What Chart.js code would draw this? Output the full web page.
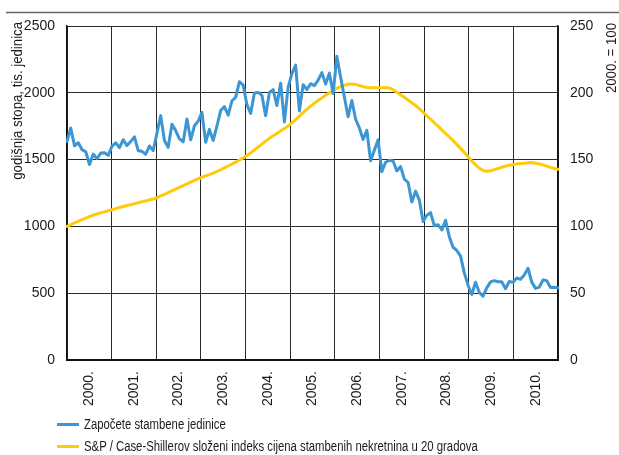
<!DOCTYPE html>
<html>
<head>
<meta charset="utf-8">
<script src="https://cdn.jsdelivr.net/npm/chart.js@4.4.1/dist/chart.umd.min.js"></script>
<style>
  html, body { margin: 0; padding: 0; background: #fff; }
  #wrap { position: relative; width: 619px; height: 455px; }
  #legend { position: absolute; left: 57px; top: 413px; font: 14px 'Liberation Sans Narrow', 'Liberation Sans', Arial, sans-serif; color: #1a1a1a; }
  .item { display: flex; align-items: center; height: 22px; }
  .swatch { width: 22px; height: 3px; margin-right: 5px; flex: none; }
  .txt { display: inline-block; transform: scaleX(0.81); transform-origin: 0 50%; white-space: nowrap; }
</style>
</head>
<body>
<div id="wrap">
  <canvas id="chart" width="619" height="455"></canvas>
  <div id="legend"></div>
</div>
<script>
// years on the axis
const years = [2000, 2001, 2002, 2003, 2004, 2005, 2006, 2007, 2008, 2009, 2010];
const yearLabels = ['2000.', '2001.', '2002.', '2003.', '2004.', '2005.', '2006.', '2007.', '2008.', '2009.', '2010.'];

// monthly categories
const months = [];
years.forEach(y => {
    for (let m = 1; m <= 12; m++) months.push(y + '-' + (m < 10 ? '0' + m : m));
});

// housing starts, annual rate, thousands (left axis)
const starts = [
    1636, 1737, 1604, 1626, 1575, 1559, 1463, 1541, 1507, 1549, 1551, 1532,
    1600, 1625, 1590, 1649, 1605, 1636, 1670, 1567, 1562, 1540, 1602, 1568,
    1698, 1829, 1642, 1592, 1764, 1717, 1655, 1633, 1804, 1648, 1753, 1788,
    1853, 1629, 1726, 1643, 1751, 1867, 1897, 1833, 1939, 1967, 2083, 2057,
    1911, 1846, 1998, 2003, 1981, 1828, 2002, 2024, 1905, 2072, 1782, 2042,
    2144, 2207, 1864, 2061, 2025, 2068, 2054, 2095, 2151, 2065, 2147, 1994,
    2273, 2119, 1969, 1821, 1942, 1802, 1737, 1650, 1720, 1491, 1570, 1649,
    1409, 1480, 1495, 1490, 1415, 1448, 1354, 1330, 1183, 1264, 1197, 1037,
    1084, 1103, 1005, 1013, 973, 1046, 923, 844, 820, 777, 652, 560,
    490, 582, 505, 478, 540, 585, 594, 586, 585, 534, 588, 581,
    614, 604, 636, 687, 583, 536, 546, 599, 594, 543, 545, 539
];

// S&P / Case-Shiller 20-city index, 2000 = 100 (right axis)
const caseShiller = [
    100.0, 101.3, 102.6, 103.8, 105.0, 106.2, 107.4, 108.4, 109.3, 110.1, 110.9, 111.7,
    112.5, 113.3, 114.1, 114.9, 115.6, 116.3, 117.0, 117.7, 118.4, 119.1, 119.8, 120.5,
    121.6, 122.8, 124.0, 125.3, 126.6, 127.9, 129.2, 130.5, 131.8, 133.1, 134.4, 135.6,
    136.8, 137.8, 138.8, 139.9, 141.1, 142.4, 143.8, 145.2, 146.6, 148.1, 149.7, 151.3,
    153.0, 155.1, 157.2, 159.4, 161.6, 163.8, 165.9, 167.8, 169.6, 171.4, 173.2, 175.2,
    177.5, 180.0, 182.6, 185.2, 187.7, 190.0, 192.2, 194.3, 196.2, 198.1, 200.0, 201.8,
    203.3, 204.6, 205.7, 206.4, 206.6, 206.3, 205.5, 204.6, 204.0, 203.8, 203.7, 203.8,
    203.8, 203.9, 203.6, 202.3, 200.4, 198.5, 196.6, 194.6, 192.6, 190.5, 188.1, 185.5,
    182.8, 180.2, 177.6, 175.0, 172.3, 169.6, 166.9, 164.2, 161.4, 158.4, 155.4, 152.2,
    148.9, 146.1, 143.6, 141.9, 141.2, 141.6, 142.5, 143.4, 144.3, 145.1, 145.8, 146.4,
    146.8, 147.1, 147.3, 147.6, 147.8, 147.3, 146.8, 146.0, 145.1, 144.2, 143.4, 142.8
];

const leftTitle = 'godišnja stopa, tis. jedinica';
const rightTitle = '2000. = 100';
const FONT = "'Liberation Sans Narrow', 'Liberation Sans', Arial, sans-serif";
const TEXT = '#1a1a1a';
const GRID = '#2a2a2a';

Chart.defaults.font.family = FONT;
Chart.defaults.font.size = 14;
Chart.defaults.color = TEXT;

// rotated text, squeezed along its length to look like the condensed original
function sideTitle(ctx, text, x, y) {
    ctx.save();
    ctx.translate(x, y);
    ctx.rotate(-Math.PI / 2);
    ctx.scale(0.88, 1);
    ctx.fillText(text, 0, 0);
    ctx.restore();
}

const extras = {
    id: 'extras',
    afterDraw(chart) {
        const ctx = chart.ctx;
        ctx.save();
        ctx.strokeStyle = '#666';
        ctx.lineWidth = 1.5;
        ctx.beginPath();
        ctx.moveTo(6, 12.5);
        ctx.lineTo(619, 12.5);
        ctx.stroke();

        ctx.fillStyle = TEXT;
        ctx.font = '15px ' + FONT;
        ctx.textAlign = 'right';
        ctx.textBaseline = 'middle';
        sideTitle(ctx, leftTitle, 18, 22);
        sideTitle(ctx, rightTitle, 612, 23);
        ctx.restore();
    }
};

const chart = new Chart(document.getElementById('chart'), {
    type: 'line',
    data: {
        labels: months,
        datasets: [{
            label: 'Započete stambene jedinice',
            data: starts,
            borderColor: '#3b96d3',
            backgroundColor: '#3b96d3',
            borderWidth: 3,
            yAxisID: 'y',
            xAxisID: 'x'
        }, {
            label: 'S&P / Case-Shillerov složeni indeks cijena stambenih nekretnina u 20 gradova',
            data: caseShiller,
            borderColor: '#ffca0a',
            backgroundColor: '#ffca0a',
            borderWidth: 3,
            yAxisID: 'y2',
            xAxisID: 'x'
        }]
    },
    options: {
        responsive: false,
        animation: false,
        elements: {
            point: { radius: 0 },
            line: { tension: 0, borderJoinStyle: 'round', borderCapStyle: 'round' }
        },
        layout: { padding: { left: 0, right: 0, top: 26, bottom: 45 } },
        plugins: {
            legend: { display: false },
            tooltip: { enabled: false }
        },
        scales: {
            x: {
                type: 'category',
                display: false,
                offset: false
            },
            years: {
                type: 'linear',
                position: 'bottom',
                min: 0,
                max: years.length * 12,
                afterFit: s => { s.height = 50; },
                afterBuildTicks: s => {
                    const t = [];
                    for (let v = 0; v <= years.length * 12; v += 6) t.push({ value: v });
                    s.ticks = t;
                },
                grid: {
                    drawTicks: false,
                    color: c => (c.tick && c.tick.value % 12 === 0) ? GRID : 'rgba(0,0,0,0)',
                    lineWidth: 1
                },
                border: { color: '#111', width: 2 },
                ticks: {
                    autoSkip: false,
                    minRotation: 90,
                    maxRotation: 90,
                    padding: 11,
                    callback: v => (v % 12 === 6) ? yearLabels[(v - 6) / 12] : ''
                }
            },
            y: {
                position: 'left',
                min: 0,
                max: 2500,
                afterFit: s => { s.width = 67; },
                grid: { drawTicks: false, color: GRID, lineWidth: 1 },
                border: { color: '#111', width: 1.5 },
                ticks: { stepSize: 500, padding: 12, callback: v => String(v) }
            },
            y2: {
                position: 'right',
                min: 0,
                max: 250,
                afterFit: s => { s.width = 61; },
                grid: { drawTicks: false, drawOnChartArea: false },
                border: { color: '#111', width: 1.5 },
                ticks: { stepSize: 50, padding: 12, callback: v => String(v) }
            }
        }
    },
    plugins: [extras]
});

// legend below the chart, one entry per line
const legend = document.getElementById('legend');
chart.data.datasets.forEach(ds => {
    const item = document.createElement('div');
    item.className = 'item';
    const sw = document.createElement('span');
    sw.className = 'swatch';
    sw.style.background = ds.borderColor;
    const txt = document.createElement('span');
    txt.className = 'txt';
    txt.textContent = ds.label;
    item.appendChild(sw);
    item.appendChild(txt);
    legend.appendChild(item);
});
</script>
</body>
</html>
